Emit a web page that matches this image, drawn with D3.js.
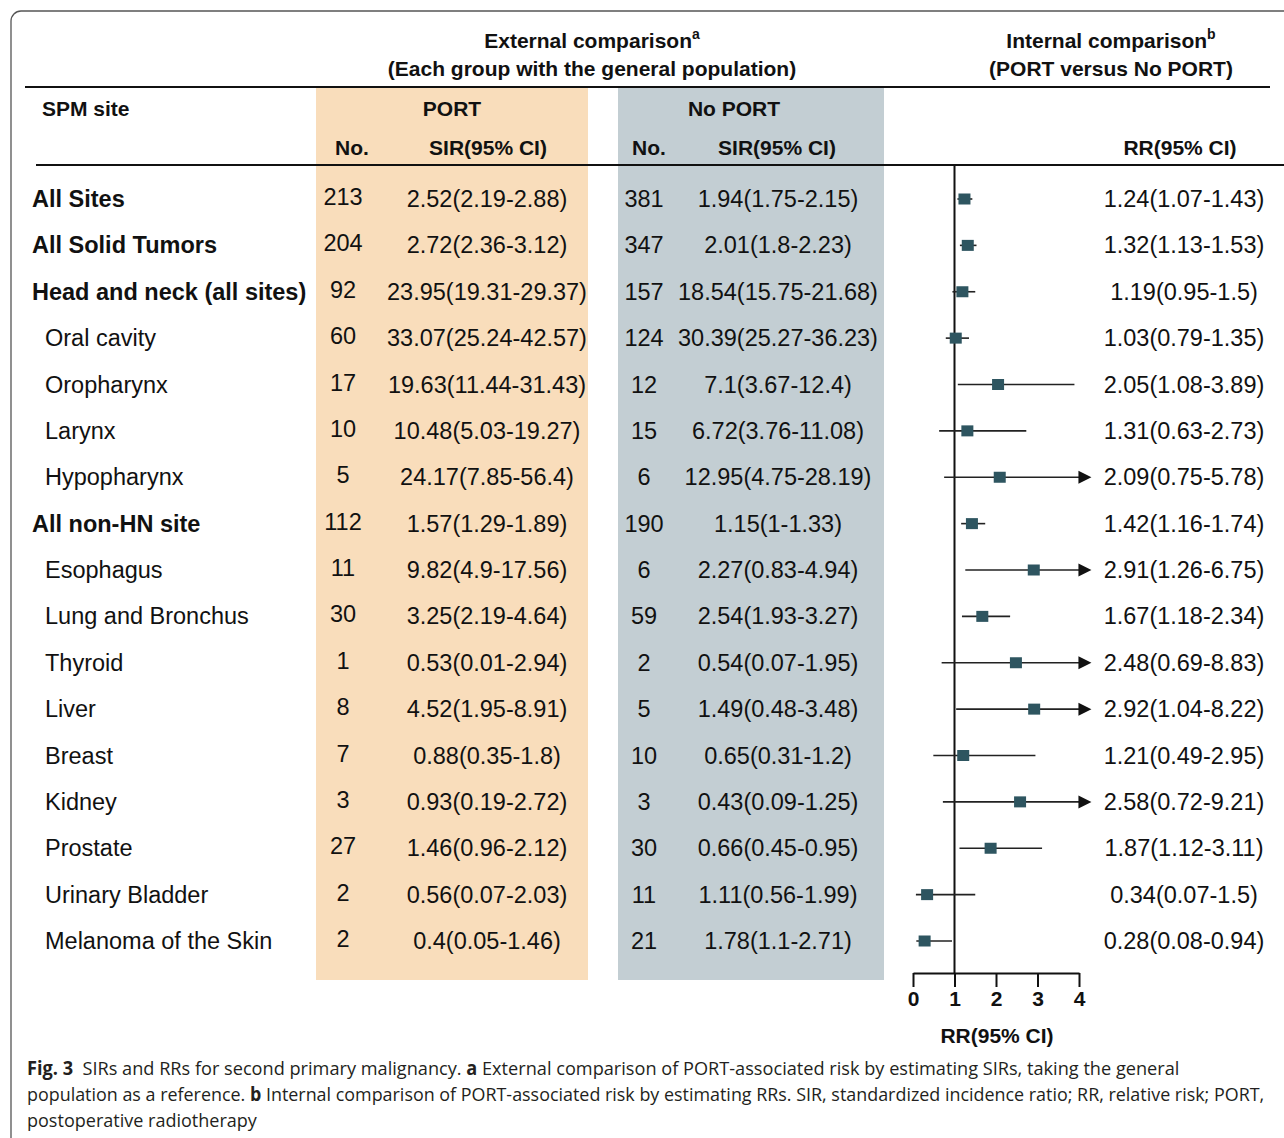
<!DOCTYPE html>
<html>
<head>
<meta charset="utf-8">
<script src="https://cdn.jsdelivr.net/npm/d3@7"></script>
<style>
  body { margin: 0; background: #fff; }
  svg { display: block; }
</style>
</head>
<body>
<svg id="chart" width="1284" height="1138"></svg>
<script>
// ---- data ----
var sites = ["All Sites", "All Solid Tumors", "Head and neck (all sites)", "Oral cavity", "Oropharynx",
  "Larynx", "Hypopharynx", "All non-HN site", "Esophagus", "Lung and Bronchus", "Thyroid", "Liver",
  "Breast", "Kidney", "Prostate", "Urinary Bladder", "Melanoma of the Skin"];
var boldSites = ["All Sites", "All Solid Tumors", "Head and neck (all sites)", "All non-HN site"];

var portN = [213, 204, 92, 60, 17, 10, 5, 112, 11, 30, 1, 8, 7, 3, 27, 2, 2];
var portSir = [2.52, 2.72, 23.95, 33.07, 19.63, 10.48, 24.17, 1.57, 9.82, 3.25, 0.53, 4.52, 0.88, 0.93, 1.46, 0.56, 0.4];
var portLo = [2.19, 2.36, 19.31, 25.24, 11.44, 5.03, 7.85, 1.29, 4.9, 2.19, 0.01, 1.95, 0.35, 0.19, 0.96, 0.07, 0.05];
var portHi = [2.88, 3.12, 29.37, 42.57, 31.43, 19.27, 56.4, 1.89, 17.56, 4.64, 2.94, 8.91, 1.8, 2.72, 2.12, 2.03, 1.46];

var noPortN = [381, 347, 157, 124, 12, 15, 6, 190, 6, 59, 2, 5, 10, 3, 30, 11, 21];
var noPortSir = [1.94, 2.01, 18.54, 30.39, 7.1, 6.72, 12.95, 1.15, 2.27, 2.54, 0.54, 1.49, 0.65, 0.43, 0.66, 1.11, 1.78];
var noPortLo = [1.75, 1.8, 15.75, 25.27, 3.67, 3.76, 4.75, 1, 0.83, 1.93, 0.07, 0.48, 0.31, 0.09, 0.45, 0.56, 1.1];
var noPortHi = [2.15, 2.23, 21.68, 36.23, 12.4, 11.08, 28.19, 1.33, 4.94, 3.27, 1.95, 3.48, 1.2, 1.25, 0.95, 1.99, 2.71];

var rr = [1.24, 1.32, 1.19, 1.03, 2.05, 1.31, 2.09, 1.42, 2.91, 1.67, 2.48, 2.92, 1.21, 2.58, 1.87, 0.34, 0.28];
var rrLo = [1.07, 1.13, 0.95, 0.79, 1.08, 0.63, 0.75, 1.16, 1.26, 1.18, 0.69, 1.04, 0.49, 0.72, 1.12, 0.07, 0.08];
var rrHi = [1.43, 1.53, 1.5, 1.35, 3.89, 2.73, 5.78, 1.74, 6.75, 2.34, 8.83, 8.22, 2.95, 9.21, 3.11, 1.5, 0.94];

var rrTicks = [0, 1, 2, 3, 4];

// ---- setup ----
var svg = d3.select("#chart");
var font = "'Liberation Sans', Arimo, Arial, Helvetica, sans-serif";
var ink = "#111";
var peach = "#f9ddbb", slate = "#c3ced3", boxCol = "#2e5560";

var y = d3.scalePoint().domain(sites).range([199, 941]);
var x = d3.scaleLinear().domain([0, 4]).range([913, 1079]);
var axisY = 973, capRR = 4.3;

function ci(e, l, h) { return e + "(" + l + "-" + h + ")"; }

// frame
svg.append("rect").attr("x", 11).attr("y", 11).attr("width", 1320).attr("height", 1200)
  .attr("rx", 10).attr("fill", "none").attr("stroke", "#555").attr("stroke-width", 1.3);

// shaded columns
svg.append("rect").attr("x", 316).attr("y", 87).attr("width", 272).attr("height", 893).attr("fill", peach);
svg.append("rect").attr("x", 618).attr("y", 87).attr("width", 266).attr("height", 893).attr("fill", slate);

// header rules
svg.append("line").attr("x1", 25).attr("x2", 1270).attr("y1", 87).attr("y2", 87).attr("stroke", ink).attr("stroke-width", 2);
svg.append("line").attr("x1", 36).attr("x2", 1284).attr("y1", 165).attr("y2", 165).attr("stroke", ink).attr("stroke-width", 2);

// headers
function head(t, xx, yy, anchor) {
  return svg.append("text").attr("x", xx).attr("y", yy).attr("text-anchor", anchor || "middle")
    .attr("font-family", font).attr("font-weight", "bold").attr("font-size", 21).attr("fill", ink).text(t);
}
var h1 = head("External comparison", 592, 48);
h1.append("tspan").attr("dy", -9).attr("font-size", 14).text("a");
head("(Each group with the general population)", 592, 76);
var h2 = head("Internal comparison", 1111, 48);
h2.append("tspan").attr("dy", -9).attr("font-size", 14).text("b");
head("(PORT versus No PORT)", 1111, 76);
head("SPM site", 42, 116, "start");
head("PORT", 452, 116);
head("No PORT", 734, 116);
head("No.", 352, 155);
head("SIR(95% CI)", 488, 155);
head("No.", 649, 155);
head("SIR(95% CI)", 777, 155);
head("RR(95% CI)", 1180, 155);

// rows
var rows = svg.append("g").selectAll("g").data(sites).join("g")
  .attr("transform", function(d) { return "translate(0," + y(d) + ")"; });

function cell(xx, anchor, fn, dy) {
  rows.append("text").attr("x", xx).attr("y", dy == null ? 8 : dy).attr("text-anchor", anchor)
    .attr("font-family", font).attr("font-size", 23.5).attr("fill", ink).text(fn);
}
rows.append("text")
  .attr("x", function(d) { return boldSites.indexOf(d) >= 0 ? 32 : 45; })
  .attr("y", 8).attr("font-family", font).attr("font-size", 23.5).attr("fill", ink)
  .attr("font-weight", function(d) { return boldSites.indexOf(d) >= 0 ? "bold" : "normal"; })
  .text(function(d) { return d; });
cell(343, "middle", function(d, i) { return portN[i]; }, 6);
cell(487, "middle", function(d, i) { return ci(portSir[i], portLo[i], portHi[i]); });
cell(644, "middle", function(d, i) { return noPortN[i]; }, 8);
cell(778, "middle", function(d, i) { return ci(noPortSir[i], noPortLo[i], noPortHi[i]); });
cell(1184, "middle", function(d, i) { return ci(rr[i], rrLo[i], rrHi[i]); });

// forest plot
var fp = svg.append("g");
fp.append("line").attr("x1", x(1)).attr("x2", x(1)).attr("y1", 165).attr("y2", axisY)
  .attr("stroke", ink).attr("stroke-width", 2);

var marks = fp.selectAll("g.m").data(sites).join("g").attr("class", "m")
  .attr("transform", function(d) { return "translate(0," + y(d) + ")"; });
marks.append("line")
  .attr("x1", function(d, i) { return x(rrLo[i]); })
  .attr("x2", function(d, i) { return rrHi[i] > 4 ? x(capRR) - 8 : x(rrHi[i]); })
  .attr("stroke", "#222").attr("stroke-width", 1.6);
marks.filter(function(d, i) { return rrHi[i] > 4; }).append("path")
  .attr("d", function() { var t = x(capRR); return "M" + t + ",0L" + (t - 13) + ",-6.5L" + (t - 13) + ",6.5Z"; })
  .attr("fill", "#111");
marks.append("rect")
  .attr("x", function(d, i) { return x(rr[i]) - 6; }).attr("y", -5.5)
  .attr("width", 12).attr("height", 11).attr("fill", boxCol);

// axis
var ax = fp.append("g").attr("transform", "translate(0," + axisY + ")")
  .call(d3.axisBottom(x).tickValues(rrTicks).tickSize(14).tickSizeOuter(0).tickPadding(4).tickFormat(d3.format("d")));
ax.select(".domain").attr("stroke", ink).attr("stroke-width", 2);
ax.selectAll(".tick line").attr("stroke", ink).attr("stroke-width", 2);
ax.selectAll(".tick text").attr("font-family", font).attr("font-weight", "bold").attr("font-size", 21).attr("fill", ink);
head("RR(95% CI)", 997, 1043);

// caption
var capFont = "'Open Sans', 'Noto Sans', sans-serif";
var capLines = [
  { y: 1075, w: 1153, parts: [["Fig. 3", 1], ["  SIRs and RRs for second primary malignancy. ", 0], ["a", 1],
    [" External comparison of PORT-associated risk by estimating SIRs, taking the general", 0]] },
  { y: 1101, w: 1238, parts: [["population as a reference. ", 0], ["b", 1],
    [" Internal comparison of PORT-associated risk by estimating RRs. SIR, standardized incidence ratio; RR, relative risk; PORT,", 0]] },
  { y: 1127, w: 230, parts: [["postoperative radiotherapy", 0]] }
];
capLines.forEach(function(l) {
  var t = svg.append("text").attr("x", 0).attr("y", 0).attr("font-family", capFont)
    .attr("font-size", 19).attr("fill", "#231f20").attr("xml:space", "preserve").style("white-space", "pre");
  l.parts.forEach(function(p) {
    t.append("tspan").attr("font-weight", p[1] ? "bold" : "normal").text(p[0]);
  });
  var w = t.node().getComputedTextLength();
  t.attr("transform", "translate(27," + l.y + ") scale(" + (l.w / w) + ",1)");
});
</script>
</body>
</html>
